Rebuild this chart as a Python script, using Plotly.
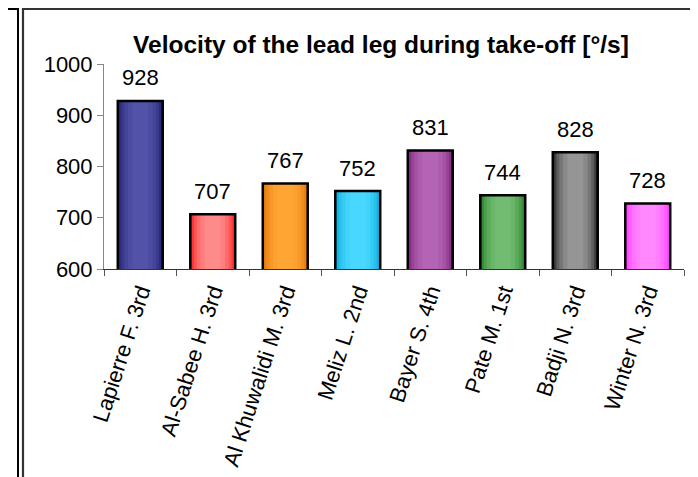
import plotly.graph_objects as go

# ── Data ──────────────────────────────────────────────────────────────────────
athletes = [
    "Lapierre F. 3rd", "Al-Sabee H. 3rd", "Al Khuwalidi M. 3rd", "Meliz L. 2nd",
    "Bayer S. 4th", "Pate M. 1st", "Badji N. 3rd", "Winter N. 3rd",
]
velocity = [928, 707, 767, 752, 831, 744, 828, 728]

# edge / centre shades used to fake the Excel gradient fill
EDGE = ["#1a1a6a", "#ff1010", "#e07000", "#00a4d4", "#761a76", "#1a781a", "#1a1a1a", "#ff30ff"]
CENTRE = ["#5252a8", "#ff8a8a", "#ffa534", "#48d8ff", "#b464b4", "#72bc72", "#959595", "#ff88ff"]

FONT = "Arial, Liberation Sans, sans-serif"


def mix(c1, c2, t):
    a = [int(c1[i:i + 2], 16) for i in (1, 3, 5)]
    b = [int(c2[i:i + 2], 16) for i in (1, 3, 5)]
    return "rgb(%d,%d,%d)" % tuple(round(p + (q - p) * t) for p, q in zip(a, b))


fig = go.Figure()

# gradient layers: widest/darkest first, narrowest/lightest last
layers = [(0.62, 0.0), (0.58, 0.3), (0.52, 0.55), (0.44, 0.75), (0.34, 0.9), (0.22, 1.0)]
for w, t in layers:
    fig.add_trace(go.Bar(
        x=athletes, y=velocity, width=w,
        marker=dict(color=[mix(e, c, t) for e, c in zip(EDGE, CENTRE)], line=dict(width=0)),
        hoverinfo="skip", showlegend=False,
    ))

# outline on top
fig.add_trace(go.Bar(
    x=athletes, y=velocity, width=0.62,
    marker=dict(color="rgba(0,0,0,0)", line=dict(color="black", width=2.5)),
    showlegend=False,
))

for name, v in zip(athletes, velocity):
    fig.add_annotation(
        x=name, y=v, text=str(v), showarrow=False,
        yanchor="middle", yshift=23,
        font=dict(family=FONT, size=22, color="black"),
    )

# ── Geometry (page pixels; the page body adds an 8px margin) ─────────────────
W, H = 698, 477
OFF = 8
L, R, T, B = 104 - OFF, W - (684 - OFF), 64 - OFF, H - (269 - OFF)
pw, ph = W - L - R, H - T - B


def px(x):
    return (x - OFF - L) / pw


def py(y):
    return (H - B - (y - OFF)) / ph


# frames: this chart's box + the cropped neighbouring chart on the left
shapes = [
    dict(type="rect", xref="paper", yref="paper",
         x0=px(23), x1=px(696), y0=py(500), y1=py(9),
         line=dict(color="#333333", width=2.2)),
    dict(type="path", xref="paper", yref="paper",
         path=f"M {px(-5)},{py(9)} L {px(18)},{py(9)} L {px(18)},{py(500)}",
         line=dict(color="black", width=2)),
]

fig.update_layout(
    width=W, height=H,
    margin=dict(l=L, r=R, t=T, b=B, autoexpand=False),
    barmode="overlay",
    paper_bgcolor="white", plot_bgcolor="white",
    font=dict(family=FONT, size=22, color="black"),
    title=dict(
        text="<b>Velocity of the lead leg during take-off [°/s]</b>",
        x=(381 - OFF) / W, xanchor="center", y=1 - (44 - OFF) / H, yanchor="middle",
        font=dict(family=FONT, size=24.5, color="black"),
    ),
    shapes=shapes,
    xaxis=dict(
        automargin=False,
        showline=True, linecolor="#333333", linewidth=1,
        ticks="outside", tickson="boundaries", ticklen=6, tickcolor="#555555",
        tickangle=-72, tickfont=dict(family=FONT, size=22),
        showgrid=False, range=[-0.5, 7.5],
    ),
    yaxis=dict(
        automargin=False,
        range=[600, 1000], dtick=100,
        showline=True, linecolor="#888888", linewidth=1,
        ticks="outside", ticklen=6, tickcolor="#888888",
        tickfont=dict(family=FONT, size=22),
        showgrid=False, zeroline=False,
    ),
)

fig.write_html("out.html")
